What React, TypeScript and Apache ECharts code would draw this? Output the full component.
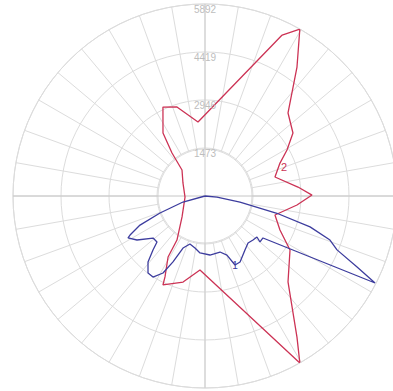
import React, { useEffect, useRef } from "react";
import * as echarts from "echarts";

const radiusTicks = [0, 1473, 2946, 4419, 5892];
const seriesNames = ["1", "2"];

// series "2" (red): [angle in degrees clockwise from top, value]
const redAngles = [25.6, 29.6, 35.5, 45, 54.4, 60.7, 66.3, 74.8, 84.5, 89.5, 95.6, 105.2, 114.4, 122.4, 136, 146.9, 150.4, 183.9, 194.3, 205.3, 206.3, 211.2, 212.5, 227.6, 267, 300.6, 318.5, 322.5, 326.3, 334.7, 342.5, 354.6, 25.6];
const redValues = [5478, 5892, 4861, 3603, 3320, 2885, 2513, 2225, 2866, 3284, 2836, 2225, 2526, 3090, 3667, 5168, 5892, 2277, 2725, 3020, 2771, 2188, 1602, 954, 614, 786, 1065, 1663, 2323, 3020, 2863, 2280, 5478];

// series "1" (blue)
const blueAngles = [90, 95, 100, 103.5, 106.4, 109.4, 112.2, 115, 117.1, 125.9, 129.9, 128.3, 132.5, 137.5, 143.5, 152, 156.5, 159.6, 165, 175.2, 185, 190.9, 197.4, 202.9, 205.9, 208.6, 212.7, 216.5, 220.8, 223.9, 226.2, 231, 237.1, 241.4, 242.5, 245.9, 249.3, 254.7, 270];
const blueValues = [0, 370, 1090, 2270, 3360, 4066, 4376, 5149, 5862, 2197, 2200, 2031, 1998, 1955, 2062, 2292, 2308, 1933, 1780, 1817, 1755, 1626, 1544, 1734, 2249, 2691, 2955, 2940, 2676, 2302, 2041, 2050, 2486, 2691, 2593, 2185, 1476, 700, 0];

const redLabelIndex = 6;
const blueLabelIndex = 16;

const CX = 205;
const CY = 196;
const R = 192;
const INNER_R = 47;

export default function App() {
  const ref = useRef<HTMLDivElement>(null);
  useEffect(() => {
    const chart = echarts.init(ref.current!, undefined, { renderer: "svg" });
    const gridColor = "#dcdcdc";
    const redData = redAngles.map((a, i) => {
      const item: any = { value: [redValues[i], a] };
      if (i === redLabelIndex) {
        item.label = { show: true, formatter: seriesNames[1], position: "right", distance: 1, offset: [0, 4], color: "#cc3355", fontSize: 11, fontFamily: "Liberation Sans" };
      }
      return item;
    });
    const blueData = blueAngles.map((a, i) => {
      const item: any = { value: [blueValues[i], a] };
      if (i === blueLabelIndex) {
        item.label = { show: true, formatter: seriesNames[0], position: "inside", offset: [0, 1], color: "#3d3d9e", fontSize: 10, fontFamily: "Liberation Sans" };
      }
      return item;
    });
    chart.setOption({
      animation: false,
      polar: [
        { center: [CX, CY], radius: R },
        { center: [CX, CY], radius: R },
      ],
      angleAxis: [
        {
          polarIndex: 0,
          type: "value",
          min: 0,
          max: 360,
          interval: 10,
          startAngle: 90,
          clockwise: true,
          axisLine: { show: true, lineStyle: { color: gridColor, width: 1 } },
          axisTick: { show: false },
          axisLabel: { show: false },
          splitLine: { show: true, lineStyle: { color: gridColor, width: 1 } },
        },
        {
          polarIndex: 1,
          type: "value",
          min: 0,
          max: 360,
          startAngle: 90,
          show: false,
        },
      ],
      radiusAxis: [
        {
          polarIndex: 0,
          type: "value",
          min: radiusTicks[0],
          max: radiusTicks[radiusTicks.length - 1],
          interval: radiusTicks[1] - radiusTicks[0],
          axisLine: { show: false },
          axisTick: { show: false },
          axisLabel: { show: false },
          splitLine: { show: true, lineStyle: { color: gridColor, width: 1 } },
        },
        {
          polarIndex: 1,
          type: "value",
          min: radiusTicks[0],
          max: radiusTicks[radiusTicks.length - 1],
          interval: radiusTicks[1] - radiusTicks[0],
          z: 5,
          axisLine: { show: false },
          axisTick: { show: false },
          splitLine: { show: false },
          axisLabel: {
            show: true,
            showMinLabel: false,
            margin: 0,
            align: "center",
            verticalAlign: "top",
            color: "#bdbdbd",
            fontSize: 10,
            fontFamily: "Liberation Sans",
            formatter: (v: number) => (radiusTicks.includes(v) ? String(v) : ""),
          },
        },
      ],
      graphic: [
        {
          type: "circle",
          z: 1,
          silent: true,
          shape: { cx: CX, cy: CY, r: INNER_R },
          style: { fill: "#ffffff", stroke: gridColor, lineWidth: 1 },
        },
        {
          type: "line",
          z: 1,
          silent: true,
          shape: { x1: CX - R, y1: CY, x2: CX + R, y2: CY },
          style: { stroke: "#c6c6c6", lineWidth: 1 },
        },
        {
          type: "line",
          z: 1,
          silent: true,
          shape: { x1: CX, y1: CY - R, x2: CX, y2: CY + R },
          style: { stroke: "#cdcdcd", lineWidth: 1 },
        },
      ],
      series: [
        {
          name: seriesNames[1],
          type: "line",
          coordinateSystem: "polar",
          polarIndex: 0,
          data: redData,
          showSymbol: true,
          symbol: "circle",
          symbolSize: 0,
          z: 3,
          lineStyle: { color: "#cc3355", width: 1.3 },
          itemStyle: { color: "#cc3355" },
        },
        {
          name: seriesNames[0],
          type: "line",
          coordinateSystem: "polar",
          polarIndex: 0,
          data: blueData,
          showSymbol: true,
          symbol: "circle",
          symbolSize: 0,
          z: 4,
          lineStyle: { color: "#3d3d9e", width: 1.3 },
          itemStyle: { color: "#3d3d9e" },
        },
      ],
    });
    return () => chart.dispose();
  }, []);
  return (
    <div
      ref={ref}
      style={{ position: "fixed", left: 0, top: 0, width: 393, height: 391, background: "#fff" }}
    />
  );
}
